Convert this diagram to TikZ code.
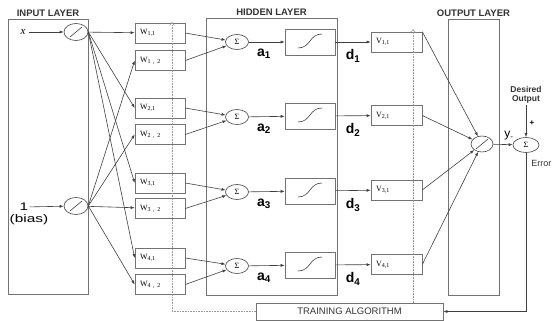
\documentclass[tikz,border=0pt]{standalone}
\usepackage{fontspec}
\setmainfont{Liberation Sans}
\newfontfamily\serifw{Liberation Serif}
\newfontfamily\widesans{Liberation Sans}[FakeStretch=1.4]
\usetikzlibrary{arrows.meta,positioning,calc,shapes.geometric}
\definecolor{linegray}{gray}{0.25}
\definecolor{boxgray}{gray}{0.45}
\definecolor{dotgray}{gray}{0.6}

\begin{document}
\begin{tikzpicture}[
        x=1pt, y=-1pt,
        >={Latex[length=4pt,width=3pt]},
        layer/.style={draw=boxgray, line width=0.7pt, inner sep=0pt},
        title/.style={font=\fontsize{9.5}{11}\selectfont\bfseries, text=black!80, inner sep=1pt},
        wbox/.style={
          draw=boxgray,
          line width=0.6pt,
          minimum height=20pt,
          text width=40pt,
          inner xsep=5pt,
          inner ysep=0pt,
          align=left,
          font=\serifw\fontsize{8}{9}\selectfont
        },
        linear/.style={
          ellipse,
          draw=linegray,
          line width=0.6pt,
          minimum width=24pt,
          minimum height=17pt,
          inner sep=0pt,
          path picture={\draw[linegray, line width=0.6pt]
            ([shift={(-6,5)}]path picture bounding box.center) --
            ([shift={(6,-5)}]path picture bounding box.center);}
        },
        sumnode/.style={
          ellipse,
          draw=linegray,
          line width=0.6pt,
          minimum width=23pt,
          minimum height=15pt,
          inner sep=0pt,
          font=\serifw\fontsize{8}{9}\selectfont
        },
        sigbox/.style={
          draw=boxgray,
          line width=0.6pt,
          minimum width=50pt,
          minimum height=26pt,
          inner sep=0pt,
          path picture={\draw[linegray, line width=0.6pt]
            ([shift={(-12,6)}]path picture bounding box.center) .. controls
            ([shift={(1,6)}]path picture bounding box.center) and
            ([shift={(-1,-8)}]path picture bounding box.center) ..
            ([shift={(12,-8)}]path picture bounding box.center);}
        },
        conn/.style={->, draw=linegray, line width=0.6pt},
        feed/.style={draw=dotgray, densely dotted, line width=0.6pt, -{Straight Barb[length=3pt,width=5pt]}},
        lab/.style={font=\fontsize{14}{16}\selectfont\bfseries, inner sep=0pt}
      ]

        \useasboundingbox (0,0) rectangle (552,321);

        \node[layer, minimum width=80pt, minimum height=275pt] (inl) at (48,156.5) {};
        \node[layer, minimum width=131pt, minimum height=277pt] (hidl) at (271.5,156.5) {};
        \node[layer, minimum width=51pt, minimum height=276pt] (outl) at (473.5,157) {};
        \node[title, above=1pt of inl] (intitle) {INPUT LAYER};
        \node[title, above=1pt of hidl] (hidtitle) {HIDDEN LAYER};
        \node[title, above=1pt of outl] (outtitle) {OUTPUT LAYER};

        \node[font=\serifw\itshape\fontsize{11}{12}\selectfont] (xlab) at (23,32) {x};
        \node[font=\widesans\fontsize{11}{12}\selectfont, inner sep=1pt] (one) at (24,207) {1};
        \node[font=\widesans\fontsize{11}{12}\selectfont, inner sep=1pt] (bias) at (29,220) {(bias)};
        \node[linear] (xin) at (76,32) {};
        \node[linear] (bin) at (76,206) {};

        \node[wbox] (w11) at (160,33) {W\textsubscript{1,1}};
        \node[wbox] (w12) at (160,60.5) {W\textsubscript{1 , 2}};
        \node[wbox] (w21) at (160,108) {W\textsubscript{2,1}};
        \node[wbox] (w22) at (160,134.5) {W\textsubscript{2 , 2}};
        \node[wbox] (w31) at (160,183) {W\textsubscript{3,1}};
        \node[wbox] (w32) at (160,208.5) {W\textsubscript{3 , 2}};
        \node[wbox] (w41) at (160,258) {W\textsubscript{4,1}};
        \node[wbox] (w42) at (160,284.5) {W\textsubscript{4 , 2}};

        \node[sumnode] (s1) at (237,42) {Σ};
        \node[sumnode] (s2) at (237,117) {Σ};
        \node[sumnode] (s3) at (237,192) {Σ};
        \node[sumnode] (s4) at (237,266) {Σ};
        \node[lab] (a1) at (264,54) {a\textsubscript{1}};
        \node[lab] (a2) at (264,129) {a\textsubscript{2}};
        \node[lab] (a3) at (264,204) {a\textsubscript{3}};
        \node[lab] (a4) at (264,278) {a\textsubscript{4}};

        \node[sigbox] (g1) at (310,42) {};
        \node[sigbox] (g2) at (310,116) {};
        \node[sigbox] (g3) at (310,191) {};
        \node[sigbox] (g4) at (310,265) {};
        \node[lab] (d1) at (353,56) {d\textsubscript{1}};
        \node[lab] (d2) at (353,130) {d\textsubscript{2}};
        \node[lab] (d3) at (353,205) {d\textsubscript{3}};
        \node[lab] (d4) at (353,279) {d\textsubscript{4}};

        \node[wbox, text width=41pt] (v1) at (396.5,42) {V\textsubscript{1,1}};
        \node[wbox, text width=41pt] (v2) at (396.5,115.5) {V\textsubscript{2,1}};
        \node[wbox, text width=41pt] (v3) at (396.5,190) {V\textsubscript{3,1}};
        \node[wbox, text width=41pt] (v4) at (396.5,264.5) {V\textsubscript{4,1}};

        \node[linear, minimum width=22pt, minimum height=16pt] (out) at (482,144) {};
        \node[sumnode, minimum width=26pt] (err) at (526,145) {Σ};
        \node[font=\fontsize{8.5}{9.5}\selectfont\bfseries, align=center, inner sep=1pt, text=black!80] (des) at (526,95) {Desired\\Output};
        \node[font=\fontsize{8}{9}\selectfont\bfseries, inner sep=0pt] (plus) at (532,123) {+};
        \node[font=\fontsize{12}{13}\selectfont, inner sep=0pt] (ylab) at (509,136) {y\textsubscript{-}};
        \node[font=\fontsize{9}{10}\selectfont, anchor=east, inner sep=0pt, text=black!80] (errlab) at (551.5,163) {Error};

        \node[draw=boxgray, line width=0.6pt, minimum width=187pt, minimum height=17pt, inner sep=0pt,
          font=\fontsize{9.5}{11}\selectfont, text=black!80] (train) at (349.5,311.5) {TRAINING ALGORITHM};

        \coordinate (wtip) at (172,22);
        \coordinate (vtip) at (413,29);

        \draw[conn] (xlab) -- (xin);
        \draw[conn] (one) -- (bin);
        \draw[conn] (xin) -- (w11);
        \draw[conn] (xin.east) -- (w21.west);
        \draw[conn] (xin.east) -- (w31.west);
        \draw[conn] (xin.east) -- (w41.west);
        \draw[conn] (bin.east) -- (w12.west);
        \draw[conn] (bin.east) -- (w22.west);
        \draw[conn] (bin) -- (w32);
        \draw[conn] (bin.east) -- (w42.west);

        \draw[conn] (w11.east) -- (s1);
        \draw[conn] (w12.east) -- (s1);
        \draw[conn] (w21.east) -- (s2);
        \draw[conn] (w22.east) -- (s2);
        \draw[conn] (w31.east) -- (s3);
        \draw[conn] (w32.east) -- (s3);
        \draw[conn] (w41.east) -- (s4);
        \draw[conn] (w42.east) -- (s4);

        \draw[conn] (s1) -- (g1);
        \draw[conn] (s2) -- (g2);
        \draw[conn] (s3) -- (g3);
        \draw[conn] (s4) -- (g4);
        \draw[conn] (g1) -- (v1);
        \draw[conn] (g2) -- (v2);
        \draw[conn] (g3) -- (v3);
        \draw[conn] (g4) -- (v4);

        \draw[conn] (v1.north east) -- (out);
        \draw[conn] (v2.east) -- (out);
        \draw[conn] (v3.east) -- (out);
        \draw[conn] (v4.east) -- (out);
        \draw[conn] (out) -- (err);
        \draw[conn] (des) -- (err);
        \draw[conn] (err) |- (train);

        \draw[feed] (train.west) -| (wtip);
        \draw[feed] (train.north -| vtip) -- (vtip);

      \end{tikzpicture}
\end{document}
